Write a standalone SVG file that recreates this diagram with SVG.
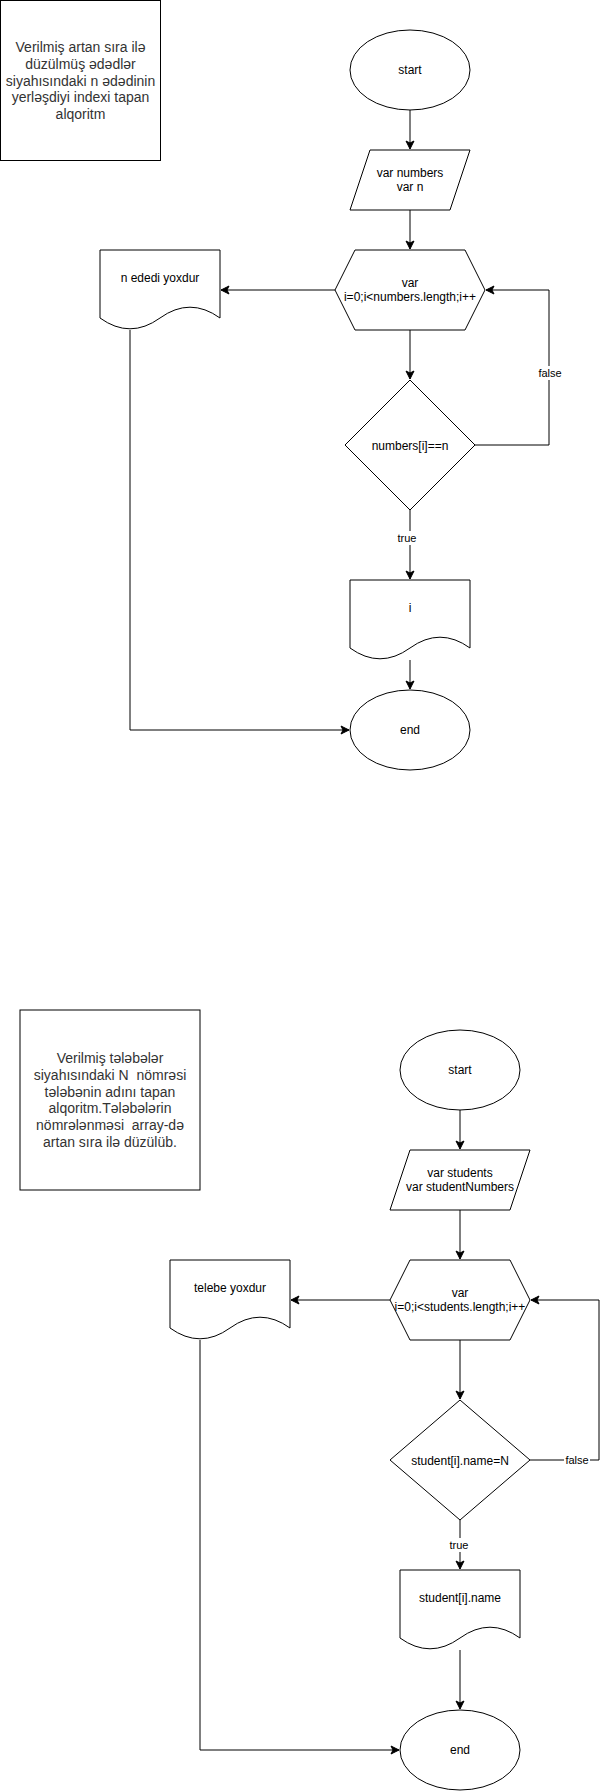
<svg xmlns="http://www.w3.org/2000/svg" width="609" height="1791" viewBox="0 0 609 1791">
  <defs>
    <style>
      .shape { fill: #ffffff; stroke: #000000; stroke-width: 1; }
      .edge { fill: none; stroke: #000000; stroke-width: 1; }
      .lbl { font-family: "Liberation Sans", Arial, Helvetica, sans-serif; font-size: 12px; fill: #000000; text-anchor: middle; }
      .elbl { font-family: "Liberation Sans", Arial, Helvetica, sans-serif; font-size: 11px; fill: #000000; text-anchor: middle; }
      .note { font-family: "Liberation Sans", Arial, Helvetica, sans-serif; font-size: 14px; fill: #333333; text-anchor: middle; white-space: pre; }
    </style>
    <marker id="arrow" markerUnits="userSpaceOnUse" markerWidth="10" markerHeight="10" refX="8" refY="4" orient="auto" overflow="visible">
      <path d="M8,4 L0,0 L2,4 L0,8 Z" fill="#000000" stroke="#000000" stroke-width="1" stroke-linejoin="miter"/>
    </marker>
  </defs>
  <rect width="609" height="1791" fill="#ffffff"/>

  <!-- ===== Flowchart 1: index of n in sorted array ===== -->
  <g id="connectors-1">
    <path class="edge" d="M410,110 L410,149" marker-end="url(#arrow)"/>
    <path class="edge" d="M410,210 L410,249" marker-end="url(#arrow)"/>
    <path class="edge" d="M410,330 L410,379" marker-end="url(#arrow)"/>
    <path class="edge" d="M335,290 L221,290" marker-end="url(#arrow)"/>
    <path class="edge" d="M410,510 L410,579" marker-end="url(#arrow)"/>
    <path class="edge" d="M475,445 L549,445 L549,290 L486,290" marker-end="url(#arrow)"/>
    <path class="edge" d="M410,660 L410,689" marker-end="url(#arrow)"/>
    <path class="edge" d="M130,330 L130,730 L349,730" marker-end="url(#arrow)"/>
    <rect x="537" y="366" width="26" height="14" fill="#ffffff"/>
    <text class="elbl" x="550" y="377">false</text>
    <rect x="396" y="531" width="22" height="14" fill="#ffffff"/>
    <text class="elbl" x="407" y="542">true</text>
  </g>

  <g id="note-1">
    <rect class="shape" x="0.5" y="0.5" width="160" height="160"/>
    <text class="note" x="80.5" y="52">Verilmiş artan sıra ilə</text>
    <text class="note" x="80.5" y="68.8">düzülmüş ədədlər</text>
    <text class="note" x="80.5" y="85.6">siyahısındaki n ədədinin</text>
    <text class="note" x="80.5" y="102.4">yerləşdiyi indexi tapan</text>
    <text class="note" x="80.5" y="119.2">alqoritm</text>
  </g>

  <g id="start-1">
    <ellipse class="shape" cx="410" cy="70" rx="60" ry="40"/>
    <text class="lbl" x="410" y="74">start</text>
  </g>

  <g id="input-1">
    <polygon class="shape" points="370,150 470,150 450,210 350,210"/>
    <text class="lbl" x="410" y="177">var numbers</text>
    <text class="lbl" x="410" y="191.4">var n</text>
  </g>

  <g id="loop-1">
    <polygon class="shape" points="355,250 465,250 485,290 465,330 355,330 335,290"/>
    <text class="lbl" x="410" y="287">var</text>
    <text class="lbl" x="410" y="301.4">i=0;i&lt;numbers.length;i++</text>
  </g>

  <g id="not-found-1">
    <path class="shape" d="M100,250 L220,250 L220,318 Q190,296.4 160,318 Q130,339.6 100,318 Z"/>
    <text class="lbl" x="160" y="282">n ededi yoxdur</text>
  </g>

  <g id="check-1">
    <polygon class="shape" points="410,380 475,445 410,510 345,445"/>
    <text class="lbl" x="410" y="449.5">numbers[i]==n</text>
  </g>

  <g id="output-1">
    <path class="shape" d="M350,580 L470,580 L470,648 Q440,626.4 410,648 Q380,669.6 350,648 Z"/>
    <text class="lbl" x="410" y="611.6">i</text>
  </g>

  <g id="end-1">
    <ellipse class="shape" cx="410" cy="730" rx="60" ry="40"/>
    <text class="lbl" x="410" y="734">end</text>
  </g>

  <!-- ===== Flowchart 2: student name by number ===== -->
  <g id="connectors-2">
    <path class="edge" d="M460,1110 L460,1149" marker-end="url(#arrow)"/>
    <path class="edge" d="M460,1210 L460,1259" marker-end="url(#arrow)"/>
    <path class="edge" d="M460,1340 L460,1399" marker-end="url(#arrow)"/>
    <path class="edge" d="M390,1300 L291,1300" marker-end="url(#arrow)"/>
    <path class="edge" d="M460,1520 L460,1569" marker-end="url(#arrow)"/>
    <path class="edge" d="M530,1460 L599,1460 L599,1300 L531,1300" marker-end="url(#arrow)"/>
    <path class="edge" d="M460,1650 L460,1709" marker-end="url(#arrow)"/>
    <path class="edge" d="M200,1340 L200,1750 L399,1750" marker-end="url(#arrow)"/>
    <rect x="564" y="1453" width="26" height="14" fill="#ffffff"/>
    <text class="elbl" x="577" y="1464">false</text>
    <rect x="448" y="1538" width="22" height="14" fill="#ffffff"/>
    <text class="elbl" x="459" y="1549">true</text>
  </g>

  <g id="note-2">
    <rect class="shape" x="20" y="1010" width="180" height="180"/>
    <text class="note" x="110" y="1063">Verilmiş tələbələr</text>
    <text class="note" x="110" y="1079.8">siyahısındaki N  nömrəsi</text>
    <text class="note" x="110" y="1096.6">tələbənin adını tapan</text>
    <text class="note" x="110" y="1113.4">alqoritm.Tələbələrin</text>
    <text class="note" x="110" y="1130.2">nömrələnməsi  array-də</text>
    <text class="note" x="110" y="1147">artan sıra ilə düzülüb.</text>
  </g>

  <g id="start-2">
    <ellipse class="shape" cx="460" cy="1070" rx="60" ry="40"/>
    <text class="lbl" x="460" y="1074">start</text>
  </g>

  <g id="input-2">
    <polygon class="shape" points="410,1150 530,1150 510,1210 390,1210"/>
    <text class="lbl" x="460" y="1177">var students</text>
    <text class="lbl" x="460" y="1191.4">var studentNumbers</text>
  </g>

  <g id="loop-2">
    <polygon class="shape" points="410,1260 510,1260 530,1300 510,1340 410,1340 390,1300"/>
    <text class="lbl" x="460" y="1297">var</text>
    <text class="lbl" x="460" y="1311.4">i=0;i&lt;students.length;i++</text>
  </g>

  <g id="not-found-2">
    <path class="shape" d="M170,1260 L290,1260 L290,1328 Q260,1306.4 230,1328 Q200,1349.6 170,1328 Z"/>
    <text class="lbl" x="230" y="1292">telebe yoxdur</text>
  </g>

  <g id="check-2">
    <polygon class="shape" points="460,1400 530,1460 460,1520 390,1460"/>
    <text class="lbl" x="460" y="1464.5">student[i].name=N</text>
  </g>

  <g id="output-2">
    <path class="shape" d="M400,1570 L520,1570 L520,1638 Q490,1616.4 460,1638 Q430,1659.6 400,1638 Z"/>
    <text class="lbl" x="460" y="1602">student[i].name</text>
  </g>

  <g id="end-2">
    <ellipse class="shape" cx="460" cy="1750" rx="60" ry="40"/>
    <text class="lbl" x="460" y="1754">end</text>
  </g>
</svg>
